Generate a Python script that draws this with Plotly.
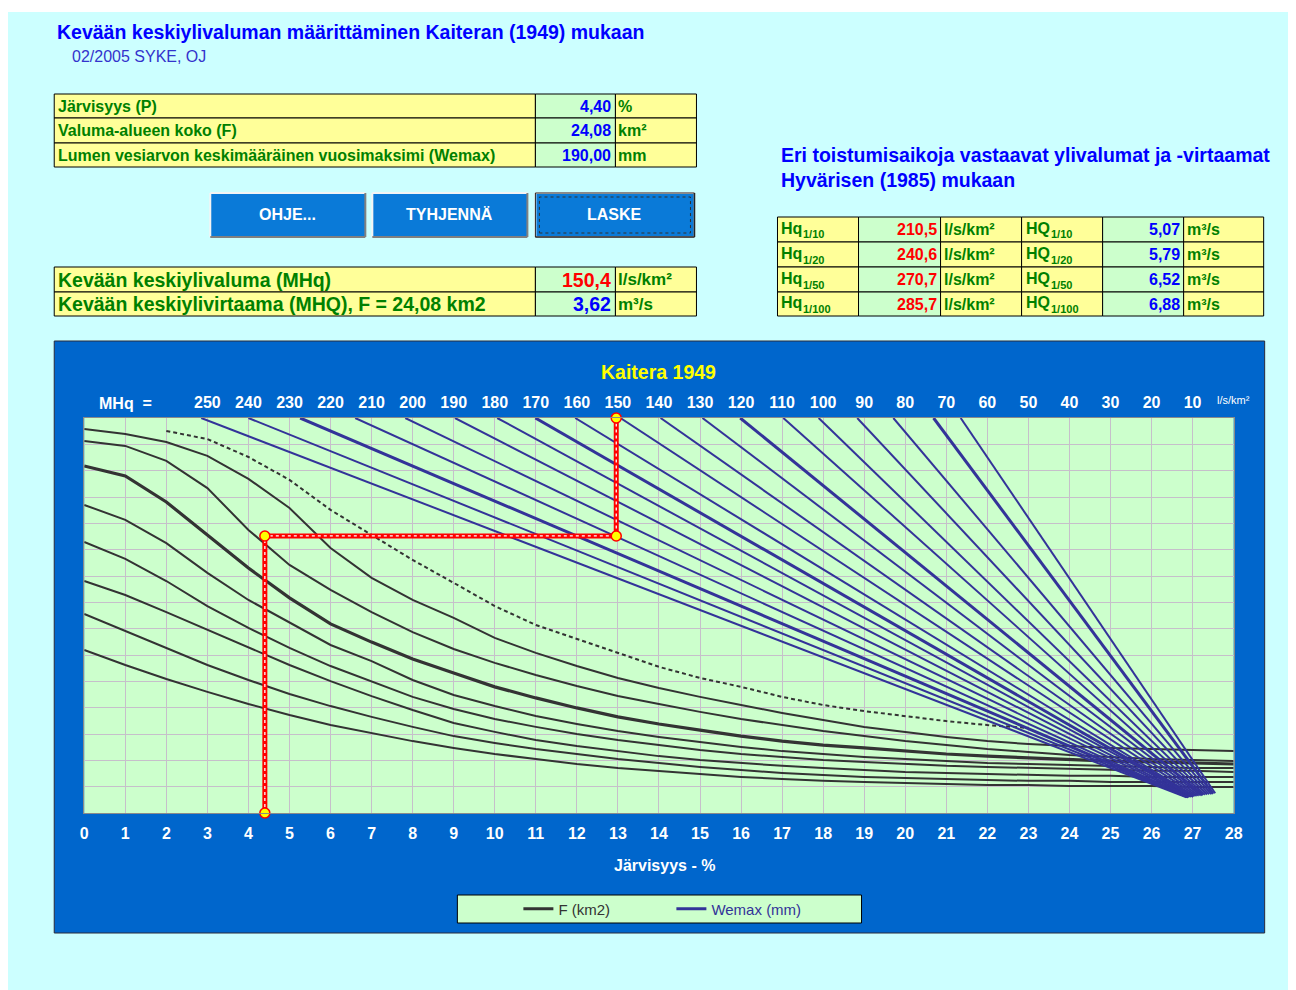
import plotly.graph_objects as go

# figure placed in the page body (default 8px margin); horizontal calibration of the photographed page
W_FIG, H_FIG, OFF = 1296, 982, 8
SX, BX = 0.9896, 3.88
FONT = "Liberation Sans"

# ---------------- data ----------------
P_lake = 4.40          # Järvisyys (%)
F_area = 24.08         # km2
Wemax_in = 190.00      # mm
MHq_out = 150.4        # l/s/km2
MHQ_out = 3.62         # m3/s
F_level = 10.52        # level of the F = 24.08 km2 curve at P = 4.4 (hidden nomogram scale 0..15)

ret_periods = ["1/10", "1/20", "1/50", "1/100"]
Hq_values = [210.5, 240.6, 270.7, 285.7]
HQ_values = [5.07, 5.79, 6.52, 6.88]

lake_ticks = list(range(0, 29))
mhq_ticks = [250, 240, 230, 220, 210, 200, 190, 180, 170, 160, 150, 140, 130,
             120, 110, 100, 90, 80, 70, 60, 50, 40, 30, 20, 10]

lake_x = list(range(0, 29))
f_curve_1 = [14.58, 14.39, 14.09, 13.56, 12.69, 11.58, 10.06, 8.93, 8.09, 7.41, 6.65, 6.08, 5.58, 5.13, 4.75,
             4.41, 4.10, 3.80, 3.53, 3.27, 3.08, 2.89, 2.73, 2.62, 2.54, 2.47, 2.43, 2.39, 2.35]
f_curve_2 = [14.13, 13.94, 13.37, 12.34, 10.75, 9.42, 8.47, 7.63, 6.87, 6.23, 5.70, 5.24, 4.82, 4.44, 4.14,
             3.84, 3.57, 3.34, 3.11, 2.92, 2.73, 2.58, 2.43, 2.32, 2.20, 2.13, 2.05, 2.01, 1.97]
f_curve_3 = [13.18, 12.80, 11.81, 10.56, 9.30, 8.17, 7.18, 6.49, 5.85, 5.32, 4.79, 4.37, 3.99, 3.65, 3.38,
             3.15, 2.92, 2.73, 2.58, 2.47, 2.35, 2.24, 2.16, 2.09, 2.01, 1.97, 1.94, 1.90, 1.86]
f_curve_4 = [11.70, 11.13, 10.25, 9.12, 8.09, 7.22, 6.38, 5.77, 5.05, 4.48, 4.06, 3.68, 3.38, 3.11, 2.89,
             2.70, 2.51, 2.35, 2.24, 2.13, 2.05, 1.97, 1.90, 1.86, 1.82, 1.79, 1.75, 1.71, 1.71]
f_curve_5 = [10.29, 9.65, 8.81, 7.86, 7.03, 6.27, 5.58, 4.98, 4.41, 3.95, 3.57, 3.27, 3.00, 2.77, 2.58,
             2.39, 2.24, 2.13, 2.01, 1.94, 1.86, 1.79, 1.75, 1.71, 1.67, 1.63, 1.60, 1.60, 1.56]
f_curve_6 = [8.81, 8.28, 7.63, 6.95, 6.27, 5.62, 5.01, 4.44, 3.91, 3.42, 3.08, 2.77, 2.54, 2.35, 2.16,
             2.01, 1.90, 1.79, 1.71, 1.63, 1.56, 1.52, 1.48, 1.44, 1.41, 1.41, 1.37, 1.37, 1.37]
f_curve_7 = [7.56, 6.91, 6.27, 5.62, 5.05, 4.52, 4.06, 3.65, 3.27, 2.92, 2.66, 2.43, 2.24, 2.05, 1.90,
             1.75, 1.63, 1.52, 1.44, 1.37, 1.33, 1.29, 1.25, 1.22, 1.22, 1.18, 1.18, 1.18, 1.18]
f_curve_8 = [6.19, 5.62, 5.09, 4.60, 4.14, 3.72, 3.34, 3.04, 2.73, 2.47, 2.24, 2.05, 1.86, 1.71, 1.60,
             1.48, 1.37, 1.29, 1.22, 1.18, 1.14, 1.10, 1.06, 1.06, 1.03, 1.03, 1.03, 0.99, 0.99]
dashed_x = list(range(2, 24))
f_curve_dashed = [14.51, 14.20, 13.52, 12.65, 11.51, 10.56, 9.61, 8.74, 7.86, 7.14, 6.61, 6.08, 5.55, 5.13,
                  4.79, 4.41, 4.10, 3.87, 3.68, 3.49, 3.34, 3.23]

wemax_mm = [220, 210, 200, 190, 180, 170, 160, 150, 140, 130, 120, 110, 100, 90, 80, 70, 60, 50, 40]
wemax_top_x = [2.85, 4.00, 5.26, 6.60, 7.82, 9.03, 10.06, 10.99, 11.96, 13.06, 14.04, 15.06, 15.98,
               17.03, 17.89, 18.83, 19.71, 20.69, 21.35]
wemax_end_x = [26.85, 26.88, 26.90, 26.92, 26.95, 26.97, 27.00, 27.02, 27.05, 27.10, 27.15, 27.20, 27.25,
               27.30, 27.35, 27.40, 27.45, 27.50, 27.55]
wemax_end_y = [0.60, 0.60, 0.61, 0.61, 0.62, 0.62, 0.63, 0.63, 0.64, 0.65, 0.66, 0.67, 0.68, 0.69, 0.70,
               0.71, 0.72, 0.73, 0.75]
wemax_bold = [200, 150, 100, 50]

Y_TOP = 15  # top of the hidden nomogram scale


def mhq_to_x(v):
    return (280 - v) / 10.0


def fi(v, d):
    return f"{v:.{d}f}".replace(".", ",")


# ---------------- helpers (layout in window pixels) ----------------
shapes, annotations = [], []


def X(px):
    return ((px - BX) / SX - OFF) / W_FIG


def Y(py):
    return 1 - (py - OFF) / H_FIG


def rect(x0, y0, x1, y1, fill, lc="#000000", lw=1, dash=None):
    shapes.append(dict(type="rect", xref="paper", yref="paper", layer="below",
                       x0=X(x0), x1=X(x1), y0=Y(y1), y1=Y(y0), fillcolor=fill,
                       line=dict(color=lc, width=lw, dash=dash)))


def seg(x0, y0, x1, y1, color, lw=1, dash=None):
    shapes.append(dict(type="line", xref="paper", yref="paper", layer="below",
                       x0=X(x0), x1=X(x1), y0=Y(y0), y1=Y(y1),
                       line=dict(color=color, width=lw, dash=dash)))


def text(px, py, s, size=16, color="#000000", bold=True, anchor="left"):
    annotations.append(dict(xref="paper", yref="paper", x=X(px), y=Y(py),
                            text=s, showarrow=False,
                            xanchor=anchor, yanchor="middle", borderpad=0,
                            font=dict(family=FONT, size=size, color=color,
                                      weight="bold" if bold else "normal")))


YEL, LGR = "#ffff99", "#ccffcc"
GTXT, BTXT, RTXT = "#008000", "#0000ff", "#ff0000"

# page background
rect(7, 12, 1291, 990, "#ccffff", lc="#ccffff", lw=0)

# titles
text(56, 32, "Kevään keskiylivaluman määrittäminen Kaiteran (1949) mukaan", 19.5, BTXT)
text(71, 57, "02/2005 SYKE, OJ", 16, "#3333cc", bold=False)

# input table
cols = [54, 535, 615, 696]
rows = [94, 118, 143, 167]
lbls = ["Järvisyys (P)", "Valuma-alueen koko (F)", "Lumen vesiarvon keskimääräinen vuosimaksimi (Wemax)"]
vals = [fi(P_lake, 2), fi(F_area, 2), fi(Wemax_in, 2)]
units = ["%", "km²", "mm"]
for i in range(3):
    y0, y1 = rows[i], rows[i + 1]
    rect(cols[0], y0, cols[1], y1, YEL)
    rect(cols[1], y0, cols[2], y1, LGR)
    rect(cols[2], y0, cols[3], y1, YEL)
    yc = (y0 + y1) / 2
    text(cols[0] + 3, yc, lbls[i], 16, GTXT)
    text(cols[2] - 3, yc, vals[i], 16, BTXT, anchor="right")
    text(cols[2] + 2, yc, units[i], 16, GTXT)

# buttons
btns = [(210, 365, "OHJE..."), (372, 527, "TYHJENNÄ"), (535, 694, "LASKE")]
for x0, x1, lab in btns:
    rect(x0, 193, x1, 237, "#0a7ad8", lc="#0a7ad8", lw=0)
    seg(x0, 193, x1, 193, "#f4f4f4", 2)
    seg(x0, 193, x0, 237, "#f4f4f4", 2)
    seg(x0, 237, x1, 237, "#808080", 2)
    seg(x1, 193, x1, 237, "#808080", 2)
    text((x0 + x1) / 2, 215, lab, 16, "#ffffff", anchor="center")
rect(535, 193, 694, 237, "rgba(0,0,0,0)", lc="#202020", lw=1)
rect(539, 197, 690, 233, "rgba(0,0,0,0)", lc="#303030", lw=1, dash="dot")

# result table
rows2 = [267, 292, 316]
lbls2 = ["Kevään keskiylivaluma (MHq)", f"Kevään keskiylivirtaama (MHQ), F = {fi(F_area, 2)} km2"]
vals2 = [(fi(MHq_out, 1), RTXT), (fi(MHQ_out, 2), BTXT)]
units2 = ["l/s/km²", "m³/s"]
for i in range(2):
    y0, y1 = rows2[i], rows2[i + 1]
    rect(cols[0], y0, cols[1], y1, YEL)
    rect(cols[1], y0, cols[2], y1, LGR)
    rect(cols[2], y0, cols[3], y1, YEL)
    yc = (y0 + y1) / 2
    text(cols[0] + 3, yc, lbls2[i], 19.5, GTXT)
    text(cols[2] - 3, yc, vals2[i][0], 19.5, vals2[i][1], anchor="right")
    text(cols[2] + 2, yc, units2[i], 17, GTXT)

# return period table
text(780, 155, "Eri toistumisaikoja vastaavat ylivalumat ja -virtaamat", 19.5, BTXT)
text(780, 180, "Hyvärisen (1985) mukaan", 19.5, BTXT)
c3 = [777, 858, 940, 1021, 1102, 1183, 1263]
r3 = [217, 242, 267, 292, 316]
for i, rp in enumerate(ret_periods):
    y0, y1 = r3[i], r3[i + 1]
    fills = [YEL, LGR, YEL, YEL, LGR, YEL]
    for j in range(6):
        rect(c3[j], y0, c3[j + 1], y1, fills[j])
    yc = (y0 + y1) / 2
    text(c3[0] + 3, yc - 1, "Hq", 16, GTXT)
    text(c3[0] + 25, yc + 5, rp, 11, GTXT)
    text(c3[2] - 3, yc, fi(Hq_values[i], 1), 16, RTXT, anchor="right")
    text(c3[2] + 2, yc, "l/s/km²", 16, GTXT)
    text(c3[3] + 3, yc - 1, "HQ", 16, GTXT)
    text(c3[3] + 28, yc + 5, rp, 11, GTXT)
    text(c3[5] - 3, yc, fi(HQ_values[i], 2), 16, BTXT, anchor="right")
    text(c3[5] + 2, yc, "m³/s", 16, GTXT)

# chart frame
rect(54, 341, 1264, 933, "#0066cc", lc="#2a2a3a", lw=1)
rect(84, 418, 1233, 813, "#ccffcc", lc="#ccffcc", lw=0)
text(658, 372, "Kaitera 1949", 19.5, "#ffff00", anchor="center")
text(125, 403, "MHq  =", 16, "#ffffff", anchor="center")
text(1233, 400, "l/s/km²", 11, "#ffffff", bold=False, anchor="center")
text(664, 865, "Järvisyys - %", 16, "#ffffff", anchor="center")
rect(457, 895, 861, 923, LGR, lc="#000000", lw=1)

# ---------------- traces ----------------
fig = go.Figure()
for i, ys in enumerate([f_curve_1, f_curve_2, f_curve_3, f_curve_4,
                        f_curve_5, f_curve_6, f_curve_7, f_curve_8]):
    fig.add_trace(go.Scatter(x=lake_x, y=ys, mode="lines", showlegend=False, hoverinfo="skip",
                             line=dict(color="#333333", width=3.2 if i == 2 else 2)))
fig.add_trace(go.Scatter(x=dashed_x, y=f_curve_dashed, mode="lines", showlegend=False, hoverinfo="skip",
                         line=dict(color="#333333", width=2, dash="4px,3px")))
for w, xt, xe, ye in zip(wemax_mm, wemax_top_x, wemax_end_x, wemax_end_y):
    fig.add_trace(go.Scatter(x=[xt, xe], y=[Y_TOP, ye], mode="lines", showlegend=False, hoverinfo="skip",
                             line=dict(color="#333399", width=3 if w in wemax_bold else 2)))

xm = mhq_to_x(MHq_out)
path_x = [P_lake, P_lake, xm, xm]
path_y = [0, F_level, F_level, Y_TOP]
fig.add_trace(go.Scatter(x=path_x, y=path_y, mode="lines", showlegend=False, hoverinfo="skip",
                         line=dict(color="#ff0000", width=5), cliponaxis=False))
fig.add_trace(go.Scatter(x=path_x, y=path_y, mode="lines", showlegend=False, hoverinfo="skip",
                         line=dict(color="#ffffff", width=1.3, dash="dot"), cliponaxis=False))
fig.add_trace(go.Scatter(x=path_x, y=path_y, mode="markers", showlegend=False, hoverinfo="skip",
                         marker=dict(size=10, color="#ffff00", line=dict(color="#ff0000", width=1.5)),
                         cliponaxis=False))

# legend entries
fig.add_trace(go.Scatter(x=[None], y=[None], mode="lines", name="F (km2)",
                         line=dict(color="#333333", width=3)))
fig.add_trace(go.Scatter(x=[None], y=[None], mode="lines",
                         name="<span style='color:#333399'>Wemax (mm)</span>",
                         line=dict(color="#333399", width=3)))
# carrier for the top MHq axis
fig.add_trace(go.Scatter(x=[0, 28], y=[0, 0], xaxis="x2", mode="markers", showlegend=False,
                         hoverinfo="skip", marker=dict(opacity=0)))

grid = "#c6bfca"
tick_font = dict(family=FONT, size=16, color="#ffffff", weight="bold")
fig.update_layout(
    width=W_FIG, height=H_FIG, autosize=False,
    margin=dict(l=0, r=0, t=0, b=0),
    paper_bgcolor="#ffffff", plot_bgcolor="rgba(0,0,0,0)",
    shapes=shapes, annotations=annotations,
    xaxis=dict(domain=[X(84), X(1233)], range=[0, 28], tickvals=lake_ticks,
               ticktext=[str(t) for t in lake_ticks], showgrid=True, gridcolor=grid, gridwidth=1,
               zeroline=False, ticks="outside", ticklen=6, tickcolor="rgba(0,0,0,0)",
               tickfont=tick_font,
               showline=True, mirror=True, linecolor="#8a8a8a", linewidth=1, fixedrange=True),
    xaxis2=dict(overlaying="x", side="top", anchor="y", range=[0, 28],
                tickvals=[mhq_to_x(v) for v in mhq_ticks], ticktext=[str(v) for v in mhq_ticks],
                showgrid=False, zeroline=False, ticks="outside", ticklen=3,
                tickcolor="rgba(0,0,0,0)", tickfont=tick_font, fixedrange=True),
    yaxis=dict(domain=[Y(813), Y(418)], range=[0, Y_TOP], dtick=1, showticklabels=False,
               showgrid=True, gridcolor=grid, gridwidth=1, zeroline=False, ticks="",
               showline=True, mirror=True, linecolor="#8a8a8a", linewidth=1, fixedrange=True),
    legend=dict(orientation="h", x=X(518), xanchor="left", y=Y(909), yanchor="middle",
                bgcolor="rgba(0,0,0,0)", borderwidth=0, entrywidth=108, entrywidthmode="pixels",
                itemwidth=30, font=dict(family=FONT, size=15, color="#333333")),
)

fig.write_html("out.html")
